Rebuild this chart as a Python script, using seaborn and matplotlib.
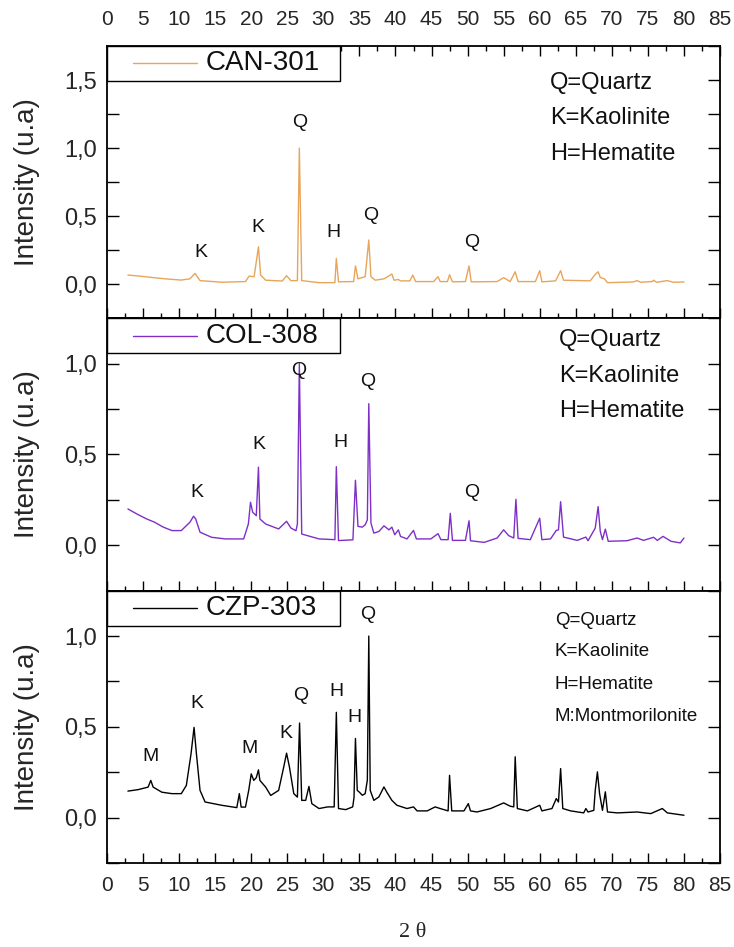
import numpy as np
import pandas as pd
import matplotlib
matplotlib.use("Agg")
import matplotlib.pyplot as plt
import seaborn as sns
from matplotlib.ticker import MultipleLocator, FuncFormatter
from matplotlib.patches import Rectangle
from matplotlib.lines import Line2D

sns.set_theme(style="ticks")
plt.rcParams["font.family"] = ["Liberation Sans", "DejaVu Sans"]

# ---------------- data ----------------
can_x = [2.9, 4.5, 6.6, 8.5, 10.3, 11.5, 12.2, 12.9, 15.9, 19.2, 19.7, 20.4, 21.0, 21.3, 22.0,
         24.3, 24.9, 25.5, 26.4, 26.67, 27.0, 29.4, 31.6, 31.8, 32.1, 34.2, 34.45, 34.8, 35.8,
         36.3, 36.6, 37.2, 38.4, 39.5, 39.8, 40.4, 40.7, 42.0, 42.4, 42.8, 45.3, 45.9, 46.2,
         47.2, 47.5, 47.9, 49.7, 50.2, 50.5, 54.1, 55.0, 55.9, 56.6, 57.0, 59.4, 60.0, 60.3,
         62.2, 62.9, 63.3, 67.0, 67.7, 68.1, 68.4, 69.0, 69.4, 73.0, 73.5, 74.0, 75.6, 75.8,
         76.2, 77.7, 78.5, 80.0]
can_y = [0.068, 0.060, 0.048, 0.038, 0.031, 0.040, 0.080, 0.027, 0.015, 0.020, 0.060, 0.056,
         0.275, 0.068, 0.030, 0.024, 0.063, 0.027, 0.027, 1.000, 0.027, 0.012, 0.012, 0.190,
         0.018, 0.020, 0.135, 0.040, 0.056, 0.325, 0.056, 0.030, 0.040, 0.075, 0.030, 0.035,
         0.025, 0.025, 0.068, 0.020, 0.020, 0.056, 0.020, 0.020, 0.070, 0.018, 0.020, 0.135,
         0.018, 0.020, 0.049, 0.020, 0.092, 0.020, 0.020, 0.100, 0.018, 0.025, 0.100, 0.030,
         0.025, 0.073, 0.092, 0.050, 0.039, 0.012, 0.017, 0.027, 0.015, 0.020, 0.030, 0.015,
         0.027, 0.015, 0.017]

col_x = [2.9, 4.3, 5.5, 6.6, 7.8, 9.0, 10.3, 11.5, 12.0, 12.3, 12.9, 14.5, 16.4, 18.95, 19.6,
         19.9, 20.2, 20.7, 21.0, 21.2, 22.0, 23.8, 24.9, 25.5, 26.2, 26.4, 26.67, 27.0, 29.4,
         31.6, 31.8, 32.1, 34.1, 34.45, 34.8, 35.4, 35.8, 36.1, 36.3, 36.6, 37.0, 37.7, 38.4,
         39.1, 39.5, 39.9, 40.4, 40.7, 41.6, 42.5, 42.9, 44.9, 45.9, 46.3, 47.3, 47.6, 47.9,
         49.7, 50.2, 50.4, 52.3, 54.1, 55.0, 55.7, 56.4, 56.7, 57.0, 58.7, 60.0, 60.3, 61.5,
         62.3, 62.6, 62.9, 63.3, 65.2, 66.4, 66.7, 67.7, 68.1, 68.4, 68.7, 69.1, 69.5, 72.1,
         73.5, 74.4, 75.8, 76.3, 77.1, 78.2, 79.5, 80.0]
col_y = [0.200, 0.169, 0.145, 0.127, 0.100, 0.081, 0.081, 0.127, 0.160, 0.145, 0.072, 0.044,
         0.035, 0.035, 0.117, 0.237, 0.182, 0.163, 0.430, 0.145, 0.117, 0.090, 0.132, 0.095,
         0.080, 0.117, 1.000, 0.062, 0.035, 0.031, 0.433, 0.026, 0.030, 0.358, 0.104, 0.100,
         0.113, 0.140, 0.780, 0.122, 0.067, 0.076, 0.107, 0.085, 0.100, 0.058, 0.085, 0.049,
         0.035, 0.082, 0.035, 0.035, 0.064, 0.031, 0.031, 0.176, 0.027, 0.027, 0.135, 0.025,
         0.016, 0.040, 0.085, 0.053, 0.040, 0.253, 0.038, 0.031, 0.149, 0.031, 0.035, 0.082,
         0.085, 0.240, 0.045, 0.027, 0.045, 0.025, 0.095, 0.213, 0.076, 0.031, 0.089, 0.022,
         0.025, 0.040, 0.027, 0.044, 0.027, 0.049, 0.022, 0.013, 0.040]

czp_x = [2.9, 4.3, 5.7, 6.07, 6.4, 7.6, 9.0, 10.3, 11.0, 11.65, 12.07, 12.4, 12.9, 13.6, 15.9,
         18.0, 18.35, 18.6, 19.2, 19.65, 20.0, 20.35, 20.7, 21.0, 21.2, 22.0, 22.7, 23.8, 24.5,
         24.9, 25.3, 25.9, 26.4, 26.7, 27.0, 27.55, 28.0, 28.4, 29.4, 30.6, 31.5, 31.8, 32.1,
         33.1, 34.07, 34.25, 34.45, 34.7, 35.0, 35.4, 35.8, 36.1, 36.3, 36.5, 37.0, 37.7, 38.4,
         38.8, 39.5, 40.2, 41.6, 42.5, 43.0, 44.4, 45.5, 46.2, 47.3, 47.5, 47.8, 49.5, 50.1,
         50.4, 51.3, 53.2, 55.0, 55.9, 56.4, 56.6, 56.9, 58.3, 60.0, 60.3, 61.7, 62.3, 62.6,
         62.9, 63.2, 64.3, 66.1, 66.4, 66.7, 67.5, 67.7, 68.0, 68.3, 68.7, 69.1, 69.4, 70.8,
         73.5, 75.4, 77.0, 77.7, 80.0]
czp_y = [0.146, 0.154, 0.168, 0.205, 0.168, 0.140, 0.132, 0.132, 0.177, 0.351, 0.497, 0.351,
         0.150, 0.086, 0.068, 0.055, 0.132, 0.058, 0.058, 0.150, 0.241, 0.205, 0.220, 0.263,
         0.205, 0.168, 0.122, 0.150, 0.278, 0.355, 0.278, 0.132, 0.113, 0.521, 0.095, 0.095,
         0.172, 0.077, 0.050, 0.059, 0.059, 0.580, 0.050, 0.044, 0.059, 0.110, 0.436, 0.150,
         0.140, 0.123, 0.132, 0.206, 1.000, 0.150, 0.095, 0.114, 0.169, 0.140, 0.095, 0.068,
         0.050, 0.059, 0.037, 0.037, 0.059, 0.050, 0.037, 0.233, 0.037, 0.037, 0.077, 0.037,
         0.031, 0.050, 0.081, 0.063, 0.059, 0.335, 0.050, 0.037, 0.068, 0.037, 0.050, 0.105,
         0.086, 0.270, 0.050, 0.037, 0.026, 0.050, 0.031, 0.040, 0.150, 0.252, 0.132, 0.040,
         0.142, 0.031, 0.026, 0.031, 0.022, 0.050, 0.026, 0.013]

samples = ["CAN-301", "COL-308", "CZP-303"]
series_x = [can_x, col_x, czp_x]
series_y = [can_y, col_y, czp_y]

can_peak_x = [12.95, 20.9, 26.7, 31.4, 36.6, 50.5]
can_peak_y = [0.237, 0.42, 1.19, 0.38, 0.505, 0.31]
can_peak_t = ["K", "K", "Q", "H", "Q", "Q"]
col_peak_x = [12.4, 21.1, 26.6, 32.4, 36.2, 50.5]
col_peak_y = [0.291, 0.556, 0.965, 0.565, 0.90, 0.288]
col_peak_t = ["K", "K", "Q", "H", "Q", "Q"]
czp_peak_x = [6.1, 12.4, 19.8, 24.8, 26.8, 31.8, 34.3, 36.2]
czp_peak_y = [0.337, 0.628, 0.38, 0.462, 0.674, 0.696, 0.554, 1.116]
czp_peak_t = ["M", "K", "M", "K", "Q", "H", "H", "Q"]
peak_x = [can_peak_x, col_peak_x, czp_peak_x]
peak_y = [can_peak_y, col_peak_y, czp_peak_y]
peak_t = [can_peak_t, col_peak_t, czp_peak_t]

key_texts = [["Q=Quartz", "K=Kaolinite", "H=Hematite"],
             ["Q=Quartz", "K=Kaolinite", "H=Hematite"],
             ["Q=Quartz", "K=Kaolinite", "H=Hematite", "M:Montmorilonite"]]
key_x = [61.4, 62.7, 62.1]
key_y = [[1.478, 1.22, 0.96], [1.129, 0.935, 0.742], [1.085, 0.913, 0.731, 0.559]]
key_fs = [17, 17, 13.5]

colors = ["#E8A55A", "#7E30C6", "#000000"]
ylims = [(-0.25, 1.75), (-0.25, 1.25), (-0.25, 1.25)]
xticks_major = 5
xticks_minor = 2.5

frames = []
for s, xs, ys in zip(samples, series_x, series_y):
    frames.append(pd.DataFrame({"sample": s, "two_theta": xs, "intensity": ys}))
df = pd.concat(frames, ignore_index=True)

# ---------------- figure ----------------
fig = plt.figure(figsize=(7.34, 9.47), dpi=100)
gs = fig.add_gridspec(3, 1, left=0.14578, right=0.98093, top=0.95143, bottom=0.0887, hspace=0)
axes = [fig.add_subplot(gs[i]) for i in range(3)]

comma = FuncFormatter(lambda v, p: f"{v:.1f}".replace(".", ","))
box_h = 35 / 272.3
box_w = 233 / 613

for i, ax in enumerate(axes):
    s = samples[i]
    sub = df[df["sample"] == s]
    sns.lineplot(data=sub, x="two_theta", y="intensity", ax=ax, color=colors[i],
                 lw=1.0, estimator=None, sort=False, legend=False)
    ax.set_xlim(0, 85)
    ax.set_ylim(*ylims[i])
    ax.set_xlabel("")
    ax.set_ylabel("Intensity (u.a)", fontsize=20, va="center")
    ax.yaxis.set_label_coords(-0.1305, 0.5)

    for sp in ax.spines.values():
        sp.set_linewidth(1.3)
        sp.set_color("black")
        sp.set_visible(True)

    ax.xaxis.set_major_locator(MultipleLocator(xticks_major))
    ax.xaxis.set_minor_locator(MultipleLocator(xticks_minor))
    ax.yaxis.set_major_locator(MultipleLocator(0.5))
    ax.yaxis.set_minor_locator(MultipleLocator(0.25))
    ax.yaxis.set_major_formatter(comma)

    ax.tick_params(axis="y", which="both", direction="in", left=True, right=True,
                   length=8.5, width=1.0, color="black", labelsize=17, pad=7)
    ax.tick_params(axis="x", which="major", direction="in", length=7, width=1.0, color="black")
    ax.tick_params(axis="x", which="minor", direction="in", length=3.5, width=1.0, color="black")
    if i == 0:
        ax.tick_params(axis="x", which="both", top=True, bottom=True,
                       labeltop=True, labelbottom=False, labelsize=15, pad=12)
    elif i == 1:
        ax.tick_params(axis="x", which="both", top=False, bottom=True,
                       labeltop=False, labelbottom=False)
    else:
        ax.tick_params(axis="x", which="both", top=False, bottom=True,
                       labeltop=False, labelbottom=True, labelsize=15, pad=9)
    for lab in ax.get_xticklabels():
        lab.set_family(["Liberation Sans Narrow", "Liberation Sans", "DejaVu Sans"])

    # legend-like box
    ax.add_patch(Rectangle((0, 1 - box_h), box_w, box_h, transform=ax.transAxes,
                           fc="white", ec="black", lw=1.0, zorder=5, clip_on=False))
    ax.add_line(Line2D([0.0424, 0.1468], [1 - box_h / 2] * 2, transform=ax.transAxes,
                       color=colors[i], lw=1.0, zorder=6))
    ax.text(0.1615, 1 - box_h / 2, s, transform=ax.transAxes, fontsize=20,
            va="center", ha="left", zorder=7, color="#111111")

    # peak labels
    for px_, py_, t in zip(peak_x[i], peak_y[i], peak_t[i]):
        ax.text(px_, py_, t, fontsize=14, ha="center", va="center", color="#111111")

    # key texts
    for t, ky in zip(key_texts[i], key_y[i]):
        ax.text(key_x[i], ky, t, fontsize=key_fs[i], ha="left", va="center", color="#111111")

fig.text(0.5627, 1 - 932 / 947, "2 θ", ha="center", va="center", fontsize=16,
         family=["Liberation Serif", "DejaVu Serif"])

fig.savefig("out.png", dpi=100)
